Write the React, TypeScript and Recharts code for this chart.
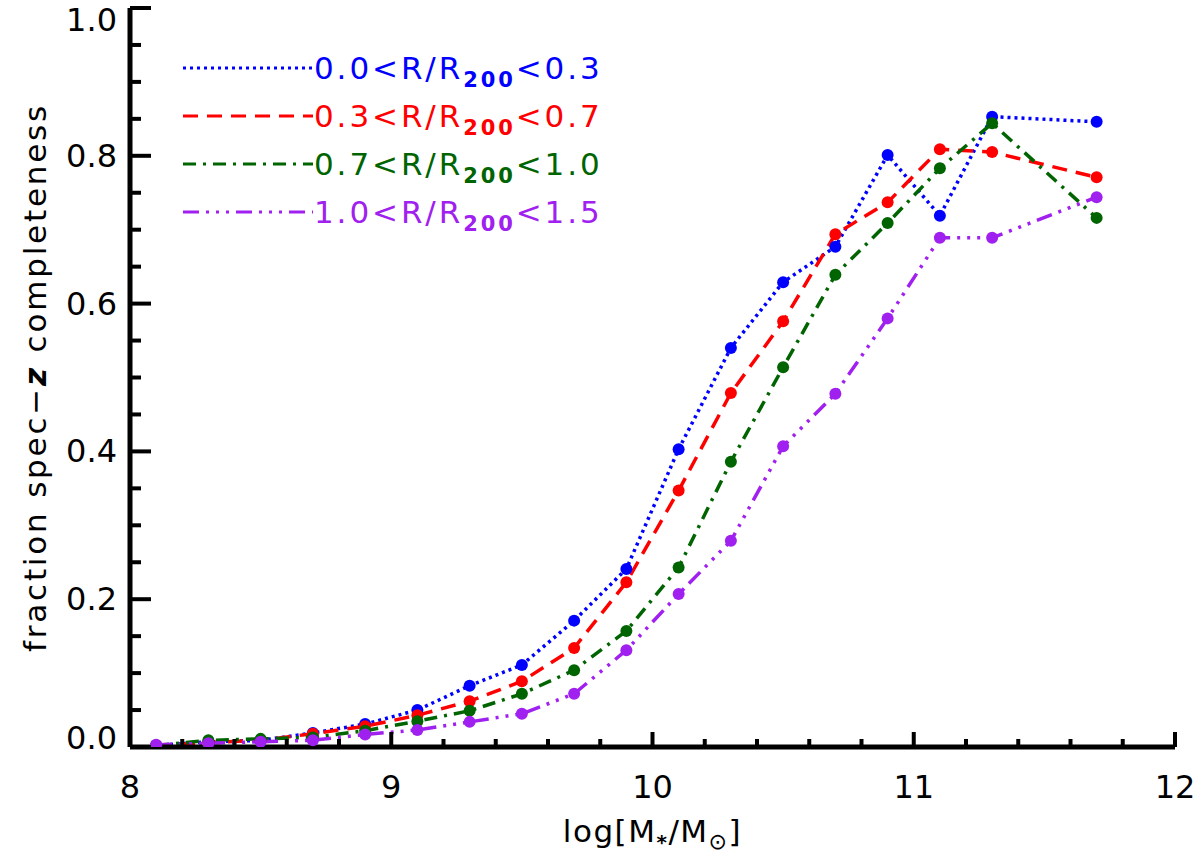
import React from 'react';
import { LineChart, Line, XAxis, YAxis, Legend } from 'recharts';

// log stellar mass bins
const massBins = [8.1, 8.3, 8.5, 8.7, 8.9, 9.1, 9.3, 9.5, 9.7, 9.9, 10.1, 10.3, 10.5, 10.7, 10.9, 11.1, 11.3, 11.7];

// completeness per radial bin
const inner = [0.002, 0.007, 0.009, 0.019, 0.031, 0.05, 0.083, 0.111, 0.171, 0.241, 0.403, 0.54, 0.629, 0.677, 0.801, 0.719, 0.853, 0.846];
const midInner = [0.002, 0.006, 0.009, 0.018, 0.028, 0.043, 0.062, 0.089, 0.134, 0.223, 0.347, 0.479, 0.576, 0.694, 0.737, 0.809, 0.805, 0.771];
const midOuter = [0.002, 0.009, 0.011, 0.013, 0.022, 0.035, 0.049, 0.072, 0.104, 0.157, 0.243, 0.386, 0.514, 0.639, 0.709, 0.783, 0.844, 0.716];
const outer = [0.003, 0.005, 0.007, 0.009, 0.017, 0.023, 0.034, 0.045, 0.072, 0.131, 0.207, 0.279, 0.407, 0.478, 0.58, 0.689, 0.689, 0.744];

const xTicks = [8, 8.2, 8.4, 8.6, 8.8, 9, 9.2, 9.4, 9.6, 9.8, 10, 10.2, 10.4, 10.6, 10.8, 11, 11.2, 11.4, 11.6, 11.8, 12];
const yTicks = [0, 0.05, 0.1, 0.15, 0.2, 0.25, 0.3, 0.35, 0.4, 0.45, 0.5, 0.55, 0.6, 0.65, 0.7, 0.75, 0.8, 0.85, 0.9, 0.95, 1];

const series = [
  { key: 'inner', lo: '0.0', hi: '0.3', color: '#0000ff', dash: '3 4' },
  { key: 'midInner', lo: '0.3', hi: '0.7', color: '#ff0000', dash: '15 9' },
  { key: 'midOuter', lo: '0.7', hi: '1.0', color: '#006400', dash: '13 7 3 7' },
  { key: 'outer', lo: '1.0', hi: '1.5', color: '#a020f0', dash: '16 7 3 7 3 7 3 7' },
];

const data = massBins.map((m, i) => ({
  m,
  inner: inner[i],
  midInner: midInner[i],
  midOuter: midOuter[i],
  outer: outer[i],
}));

const FONT = '"DejaVu Sans", sans-serif';
const AXIS = { stroke: '#000', strokeWidth: 5 };

const isMajor = (v: number, step: number) => Math.abs(v / step - Math.round(v / step)) < 1e-6;

const BottomTick = (p: any) => {
  const v = p.payload.value;
  const major = isMajor(v, 1);
  return (
    <g>
      <line x1={p.x} x2={p.x} y1={p.y} y2={p.y - (major ? 15 : 8)} stroke="#000" strokeWidth={4} />
      {major && (
        <text x={p.x} y={p.y + 51} textAnchor="middle" fontSize={32} fontFamily={FONT} fill="#000">
          {v}
        </text>
      )}
    </g>
  );
};

const TopTick = (p: any) => {
  const major = isMajor(p.payload.value, 1);
  return <line x1={p.x} x2={p.x} y1={p.y} y2={p.y + (major ? 15 : 8)} stroke="#000" strokeWidth={4} />;
};

const LeftTick = (p: any) => {
  const v = p.payload.value;
  const major = isMajor(v, 0.2);
  const cy = Math.min(Math.max(p.y, 20), 738);
  return (
    <g>
      <line x1={p.x} x2={p.x + (major ? 21 : 11)} y1={p.y} y2={p.y} stroke="#000" strokeWidth={4} />
      {major && (
        <text x={p.x - 13} y={cy + 11} textAnchor="end" fontSize={32} fontFamily={FONT} fill="#000">
          {v.toFixed(1)}
        </text>
      )}
    </g>
  );
};

const RightTick = (p: any) => {
  const major = isMajor(p.payload.value, 0.2);
  return <line x1={p.x} x2={p.x - (major ? 21 : 11)} y1={p.y} y2={p.y} stroke="#000" strokeWidth={4} />;
};

const XLabel = ({ viewBox }: any) => (
  <text x={viewBox.x + viewBox.width / 2} y={842} textAnchor="middle" fontSize={31} fontFamily={FONT} fill="#000" letterSpacing={1.5}>
    log[M<tspan dy={7} fontSize={20} fontWeight="bold">*</tspan>
    <tspan dy={-7}>/M</tspan>
    <tspan dy={7} fontSize={22}>⊙</tspan>
    <tspan dy={-7}>]</tspan>
  </text>
);

const YLabel = ({ viewBox }: any) => {
  const cy = viewBox.y + viewBox.height / 2;
  return (
    <text
      x={46}
      y={cy}
      transform={`rotate(-90, 46, ${cy})`}
      textAnchor="middle"
      fontSize={31}
      fontFamily={FONT}
      fill="#000"
      letterSpacing={2.8}
    >
      fraction spec−<tspan fontWeight="bold" fontStyle="italic">z</tspan> completeness
    </text>
  );
};

const renderLegend = () => (
  <svg width={440} height={190} style={{ display: 'block', overflow: 'visible' }}>
    {series.map((s, i) => {
      const cy = 22 + i * 48;
      return (
        <g key={s.key}>
          <line x1={0} x2={130} y1={cy} y2={cy} stroke={s.color} strokeWidth={3} strokeDasharray={s.dash} />
          <text x={131} y={cy + 11} fontSize={31} fontFamily={FONT} fill={s.color} letterSpacing={2.9}>
            {s.lo}&lt;R/R<tspan dy={8} fontSize={21} fontWeight="bold">200</tspan>
            <tspan dy={-8}>&lt;{s.hi}</tspan>
          </text>
        </g>
      );
    })}
  </svg>
);

export default function App() {
  return (
    <div style={{ position: 'absolute', left: 0, top: 0, width: 1200, height: 855, background: '#fff' }}>
      <LineChart width={1200} height={855} data={data} margin={{ top: 8, right: 25, bottom: 58, left: 70 }}>
        <XAxis
          xAxisId="b"
          dataKey="m"
          type="number"
          domain={[8, 12]}
          ticks={xTicks}
          interval={0}
          allowDataOverflow
          height={50}
          tickSize={0}
          tickMargin={0}
          tickLine={false}
          tick={BottomTick}
          axisLine={AXIS}
          label={{ content: XLabel }}
        />
        <XAxis
          xAxisId="t"
          orientation="top"
          type="number"
          domain={[8, 12]}
          ticks={xTicks}
          interval={0}
          allowDataOverflow
          height={0}
          tickSize={0}
          tickMargin={0}
          tickLine={false}
          tick={TopTick}
          axisLine={AXIS}
        />
        <YAxis
          yAxisId="l"
          type="number"
          domain={[0, 1]}
          ticks={yTicks}
          interval={0}
          allowDataOverflow
          width={60}
          tickSize={0}
          tickMargin={0}
          tickLine={false}
          tick={LeftTick}
          axisLine={AXIS}
          label={{ content: YLabel }}
        />
        <YAxis
          yAxisId="r"
          orientation="right"
          type="number"
          domain={[0, 1]}
          ticks={yTicks}
          interval={0}
          allowDataOverflow
          width={0}
          tickSize={0}
          tickMargin={0}
          tickLine={false}
          tick={RightTick}
          axisLine={AXIS}
        />
        {series.map((s) => (
          <Line
            key={s.key}
            xAxisId="b"
            yAxisId="l"
            type="linear"
            dataKey={s.key}
            stroke={s.color}
            strokeWidth={3.5}
            strokeDasharray={s.dash}
            dot={{ r: 6, fill: s.color, stroke: 'none', strokeDasharray: '' }}
            activeDot={false}
            isAnimationActive={false}
          />
        ))}
        <Legend
          layout="horizontal"
          verticalAlign="middle"
          align="center"
          content={renderLegend}
          wrapperStyle={{ left: 183, top: 46, width: 440, height: 190 }}
        />
      </LineChart>
    </div>
  );
}
